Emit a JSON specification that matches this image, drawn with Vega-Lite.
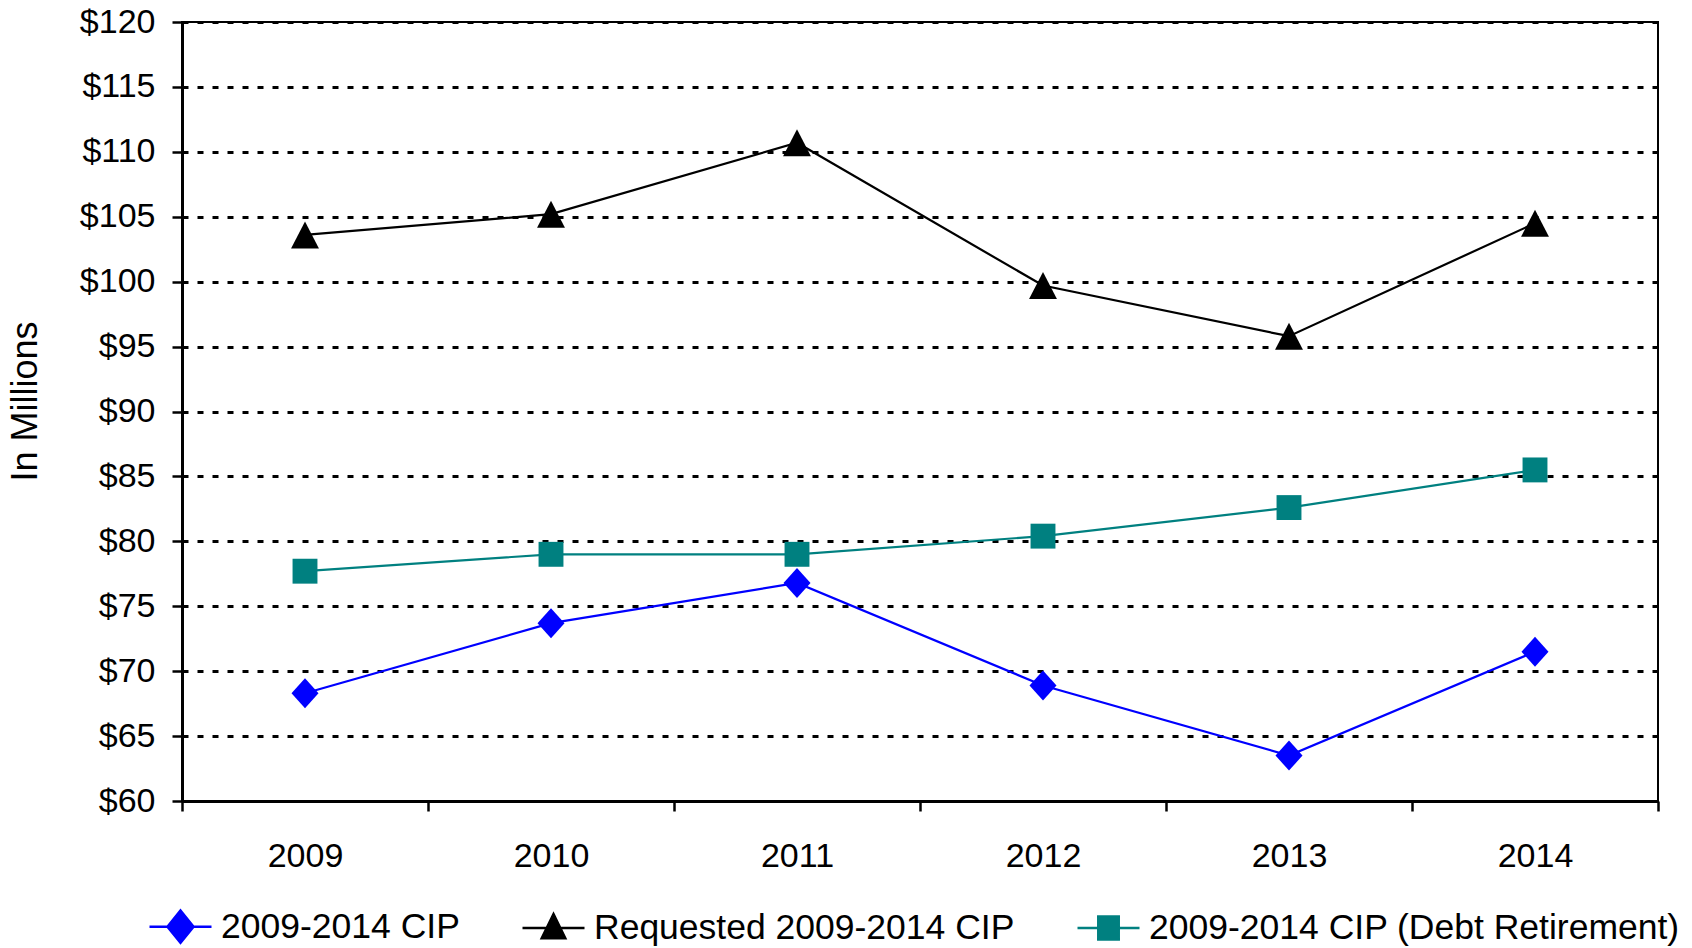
{
  "$schema": "https://vega.github.io/schema/vega-lite/v6.json",
  "width": 1476,
  "height": 779,
  "autosize": {"type": "none"},
  "padding": {"left": 182, "top": 22, "right": 34, "bottom": 147},
  "background": "white",
  "config": {
    "font": "Liberation Sans",
    "view": {"stroke": "black", "strokeWidth": 2},
    "axis": {"labelFont": "Liberation Sans", "titleFont": "Liberation Sans", "labelColor": "black", "titleColor": "black"},
    "legend": {
      "title": null, "orient": "none", "direction": "horizontal", "columns": 3,
      "legendX": -34, "legendY": 872, "padding": 0,
      "labelFontSize": 35.5, "labelFont": "Liberation Sans", "labelColor": "black", "labelOffset": 8,
      "columnPadding": 57, "symbolSize": 3844, "labelLimit": 1000, "symbolStrokeWidth": 2.5, "symbolOpacity": 1
    }
  },
  "data": {
    "values": [
      {"year": "2009", "series": "2009-2014 CIP", "value": 68.3},
      {"year": "2010", "series": "2009-2014 CIP", "value": 73.7},
      {"year": "2011", "series": "2009-2014 CIP", "value": 76.8},
      {"year": "2012", "series": "2009-2014 CIP", "value": 68.9},
      {"year": "2013", "series": "2009-2014 CIP", "value": 63.5},
      {"year": "2014", "series": "2009-2014 CIP", "value": 71.5},
      {"year": "2009", "series": "Requested 2009-2014 CIP", "value": 103.6},
      {"year": "2010", "series": "Requested 2009-2014 CIP", "value": 105.2},
      {"year": "2011", "series": "Requested 2009-2014 CIP", "value": 110.7},
      {"year": "2012", "series": "Requested 2009-2014 CIP", "value": 99.7},
      {"year": "2013", "series": "Requested 2009-2014 CIP", "value": 95.8},
      {"year": "2014", "series": "Requested 2009-2014 CIP", "value": 104.5},
      {"year": "2009", "series": "2009-2014 CIP (Debt Retirement)", "value": 77.7},
      {"year": "2010", "series": "2009-2014 CIP (Debt Retirement)", "value": 79.0},
      {"year": "2011", "series": "2009-2014 CIP (Debt Retirement)", "value": 79.0},
      {"year": "2012", "series": "2009-2014 CIP (Debt Retirement)", "value": 80.4},
      {"year": "2013", "series": "2009-2014 CIP (Debt Retirement)", "value": 82.6},
      {"year": "2014", "series": "2009-2014 CIP (Debt Retirement)", "value": 85.5}
    ]
  },
  "encoding": {
    "x": {
      "field": "year", "type": "ordinal",
      "scale": {"type": "band", "paddingInner": 0, "paddingOuter": 0},
      "axis": {
        "title": null, "labelAngle": 0, "labelFontSize": 34, "labelPadding": 28,
        "tickBand": "extent", "tickSize": 10, "tickWidth": 2.5, "tickColor": "black",
        "domainColor": "black", "domainWidth": 3, "grid": false
      }
    },
    "y": {
      "field": "value", "type": "quantitative",
      "scale": {"domain": [60, 120], "nice": false, "zero": false},
      "axis": {
        "title": "In Millions", "titleFontSize": 36, "titleFontWeight": "normal", "titlePadding": 35, "titleY": 379,
        "values": [60, 65, 70, 75, 80, 85, 90, 95, 100, 105, 110, 115, 120],
        "labelExpr": "'$' + datum.value", "labelFontSize": 34, "labelPadding": 17,
        "tickSize": 10, "tickWidth": 2.5, "tickColor": "black",
        "domainColor": "black", "domainWidth": 3,
        "grid": true, "gridColor": "black", "gridWidth": 3, "gridDash": [6, 9]
      }
    },
    "color": {
      "field": "series", "type": "nominal",
      "scale": {
        "domain": ["2009-2014 CIP", "Requested 2009-2014 CIP", "2009-2014 CIP (Debt Retirement)"],
        "range": ["#0000FF", "#000000", "#008080"]
      }
    }
  },
  "layer": [
    {
      "mark": {"type": "line", "strokeWidth": 2.2}
    },
    {
      "transform": [{"filter": "datum.series === '2009-2014 CIP'"}],
      "mark": {"type": "point", "filled": true, "opacity": 1, "size": 900, "shape": "M0,-1L0.9,0L0,1L-0.9,0Z"}
    },
    {
      "transform": [{"filter": "datum.series === 'Requested 2009-2014 CIP'"}],
      "mark": {"type": "point", "filled": true, "opacity": 1, "size": 900, "shape": "M0,-0.9L0.93,0.9L-0.93,0.9Z"}
    },
    {
      "transform": [{"filter": "datum.series === '2009-2014 CIP (Debt Retirement)'"}],
      "mark": {"type": "point", "filled": true, "opacity": 1, "size": 900, "shape": "M-0.83,-0.83L0.83,-0.83L0.83,0.83L-0.83,0.83Z"}
    },
    {
      "mark": {"type": "point", "filled": true, "opacity": 0, "size": 100, "strokeWidth": 2.5},
      "encoding": {
        "stroke": {
          "field": "series", "type": "nominal",
          "scale": {
            "domain": ["2009-2014 CIP", "Requested 2009-2014 CIP", "2009-2014 CIP (Debt Retirement)"],
            "range": ["#0000FF", "#000000", "#008080"]
          }
        },
        "shape": {
          "field": "series", "type": "nominal",
          "scale": {
            "domain": ["2009-2014 CIP", "Requested 2009-2014 CIP", "2009-2014 CIP (Debt Retirement)"],
            "range": ["M-1,0L1,0M0,-0.52L0.42,0L0,0.52L-0.42,0Z", "M-1,0L1,0M0,-0.45L0.38,0.33L-0.38,0.33Z", "M-1,0L1,0M-0.33,-0.37L0.33,-0.37L0.33,0.37L-0.33,0.37Z"]
          }
        }
      }
    }
  ]
}
